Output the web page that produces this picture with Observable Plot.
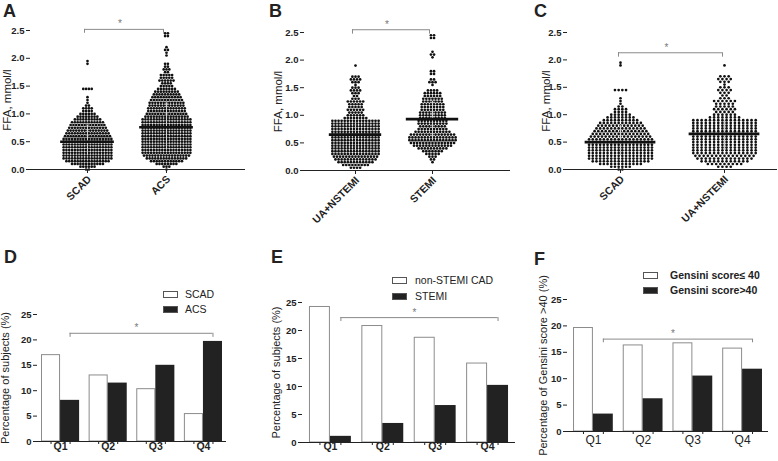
<!DOCTYPE html>
<html><head><meta charset="utf-8">
<script src="https://cdn.jsdelivr.net/npm/d3@7"></script>
<script src="https://cdn.jsdelivr.net/npm/@observablehq/plot@0.6"></script>
<style>
html,body{margin:0;padding:0;background:#fff;}
#fig{position:relative;width:778px;height:461px;overflow:hidden;font-family:"Liberation Sans",Arial,sans-serif;color:#222;}
.panel{position:absolute;}
.letter{position:absolute;font-weight:bold;font-size:18px;line-height:1;}
.legrow{position:absolute;height:7px;display:flex;align-items:center;white-space:nowrap;font-size:10.5px;line-height:1;}
.sw{display:inline-block;width:15px;height:7px;box-sizing:border-box;border:1px solid #555;}
</style></head><body><div id="fig"></div>
<script>
// ---------- DATA ----------
// FFA levels (mmol/l) used as rows of the scatter-dot plots
const ffaLevels = [0,0.05,0.1,0.15,0.2,0.25,0.3,0.35,0.4,0.45,0.5,0.55,0.6,0.65,0.7,0.75,0.8,0.85,0.9,0.95,
  1,1.05,1.1,1.15,1.2,1.25,1.3,1.35,1.4,1.45,1.5,1.55,1.6,1.65,1.7,1.75,1.8,1.85,1.9,1.95,
  2,2.05,2.1,2.15,2.2,2.25,2.3,2.35,2.4,2.45];
// number of subjects at each level
const scadCounts = [2,6,12,16,18,18,18,18,18,18,18,18,17,16,15,14,13,12,10,8,6,4,4,2,1,1,1,0,0,4,0,0,0,0,0,0,0,0,1,1,0,0,0,0,0,0,0,0,0,0];
const acsCounts = [1,3,8,12,15,17,18,18,18,18,18,18,18,18,18,18,18,18,18,16,15,14,14,13,13,12,11,10,9,7,5,4,6,5,5,2,3,2,2,0,0,1,1,2,1,0,0,0,2,2];
const uaNstemiCounts = [0,4,9,12,14,15,16,16,16,16,16,16,16,16,16,16,16,16,16,8,6,5,6,5,5,6,3,2,3,4,3,1,3,4,3,0,0,0,1,0,0,0,0,0,0,0,0,0,0,0];
const stemiCounts = [0,0,0,1,2,3,5,7,10,13,15,16,16,15,12,10,9,10,10,9,9,9,8,8,8,7,7,6,6,4,0,1,3,2,0,2,2,0,0,0,0,1,2,1,0,0,0,0,2,2];
const groupNames = ["SCAD","ACS","UA+NSTEMI","STEMI"];
const groupMedians = [0.50, 0.76, 0.65, 0.93];
const groupSpreadLow = [0.25, 0.35, 0.35, 0.55];
const groupSpreadHigh = [0.80, 1.20, 0.90, 1.25];
const ffaTicks = [0,0.5,1,1.5,2,2.5];

const quartiles = ["Q1","Q2","Q3","Q4"];
const dScad = [17.0, 13.0, 10.3, 5.4];
const dAcs = [8.1, 11.5, 15.0, 19.7];
const eNonStemi = [24.2, 20.8, 18.7, 14.1];
const eStemi = [1.1, 3.4, 6.6, 10.2];
const fLow = [19.6, 16.3, 16.7, 15.7];
const fHigh = [3.3, 6.2, 10.5, 11.8];
const pctTicks = [0,5,10,15,20,25];

// ---------- HELPERS ----------
const fig = document.getElementById("fig");
const FONT = '"Liberation Sans", Arial, sans-serif';
function place(node, left, top) {
  const d = document.createElement("div");
  d.className = "panel"; d.style.left = left + "px"; d.style.top = top + "px";
  d.appendChild(node); fig.appendChild(d);
}
function letter(t, left, top) {
  const d = document.createElement("div");
  d.className = "letter"; d.textContent = t;
  d.style.left = left + "px"; d.style.top = top + "px"; fig.appendChild(d);
}
function legend(left, top, gap, textGap, items, bold) {
  items.forEach((it, i) => {
    const row = document.createElement("div");
    row.className = "legrow";
    row.style.left = left + "px"; row.style.top = (top + i * gap) + "px";
    if (bold) row.style.fontWeight = "bold";
    const sw = document.createElement("span");
    sw.className = "sw"; sw.style.background = it.fill;
    sw.style.marginRight = textGap + "px";
    const tx = document.createElement("span"); tx.textContent = it.label;
    row.appendChild(sw); row.appendChild(tx); fig.appendChild(row);
  });
}
const baseStyle = {background: "transparent", overflow: "visible", fontFamily: FONT, color: "#222"};

function yTitle(label, ml, xLeft, size) {
  return Plot.text([label], {text: d => d, frameAnchor: "left", rotate: -90, lineAnchor: "top", textAnchor: "middle",
    dx: xLeft - ml, fontSize: size, fill: "#222"});
}

function dotPanel(o) {
  const dots = [];
  o.groups.forEach((g, gi) => {
    const step = 0.64 / d3.max(g.counts);
    g.counts.forEach((n, li) => {
      for (let i = 0; i < n; i++) dots.push({x: gi + 1 + (i - (n - 1) / 2) * step, y: ffaLevels[li]});
    });
  });
  const sig = o.sig;
  return Plot.plot({
    width: o.width, height: 230,
    marginLeft: o.ml, marginRight: o.mr, marginTop: o.mt, marginBottom: o.mb,
    x: {domain: o.xDomain},
    y: {domain: [0, 2.5]},
    style: baseStyle,
    marks: [
      Plot.dot(dots, {x: "x", y: "y", r: 1.35, fill: "#111", stroke: null}),
      Plot.ruleX(o.groups, {x: (d, i) => i + 1, y1: d => d.low, y2: d => d.high, stroke: "#d8d8d8", strokeWidth: 1}),
      Plot.ruleY(o.groups, {y: d => d.median, x1: (d, i) => i + 1 - 0.34, x2: (d, i) => i + 1 + 0.34, stroke: "#111", strokeWidth: 2.6}),
      Plot.ruleY([0], {stroke: "#222"}),
      Plot.axisY({ticks: ffaTicks, tickFormat: d3.format(".1f"), tickSize: 4, tickPadding: 2, fontWeight: "bold", fontSize: 9.5, label: null, line: true}),
      yTitle("FFA, mmol/l", o.ml, o.titleX, 11.5),
      Plot.axisX({ticks: [1, 2], tickFormat: () => "", tickSize: 4, label: null}),
      Plot.text(o.groups, {x: (d, i) => i + 1, text: d => d.name, frameAnchor: "bottom", rotate: -45,
        textAnchor: "end", lineAnchor: "middle", dx: 2, dy: 8, fontWeight: "bold", fontSize: 10.5, fill: "#222"}),
      Plot.ruleY([sig], {y: "y", x1: () => 1, x2: () => 2, dx: sig.dx, stroke: "#8a8a8a"}),
      Plot.ruleX([1, 2], {x: d => d, y1: sig.y, y2: sig.y - sig.drop, dx: sig.dx, stroke: "#8a8a8a"}),
      Plot.text([sig], {x: () => 1.5, y: "y", text: () => "*", dx: sig.dx - 4, dy: -2, fill: "#777", fontSize: 10, lineAnchor: "bottom"})
    ]
  });
}

function barPanel(o) {
  const pi = 0.2;
  const step = (o.width - o.ml - o.mr) / (4 - pi + 2 * o.po);
  const bw = step * (1 - pi);
  const rows = quartiles.map((q, i) => ({q, a: o.a[i], b: o.b[i]}));
  const sig = o.sig;
  return Plot.plot({
    width: o.width, height: 231,
    marginLeft: o.ml, marginRight: o.mr, marginTop: o.mt, marginBottom: o.mb,
    x: {domain: quartiles, paddingInner: pi, paddingOuter: o.po, round: false},
    y: {domain: [0, 25]},
    style: baseStyle,
    marks: [
      Plot.barY(rows, {x: "q", y: "a", fill: "white", stroke: "#8c8c8c", strokeWidth: 1, insetLeft: 0.5, insetRight: bw / 2 + 0.5}),
      Plot.barY(rows, {x: "q", y: "b", fill: "#222", insetLeft: bw / 2}),
      Plot.ruleY([0], {stroke: "#222"}),
      Plot.ruleX(quartiles, {x: d => d, y1: 0, y2: 0, insetTop: 3, dx: -bw / 4, stroke: "#222"}),
      Plot.ruleX(quartiles, {x: d => d, y1: 0, y2: 0, insetTop: 3, dx: bw / 4, stroke: "#222"}),
      Plot.axisY({ticks: pctTicks, tickSize: 4, tickPadding: 2, fontWeight: "bold", fontSize: 9.5, label: null, line: true}),
      yTitle(o.yLabel, o.ml, o.titleX, 11),
      Plot.axisX({tickSize: 0, tickPadding: o.qPad, fontWeight: o.qWeight, fontSize: o.qSize, label: null}),
      Plot.ruleY([sig], {y: "y", x1: () => "Q1", x2: () => "Q4", insetLeft: 3 * bw / 4, insetRight: bw / 4, stroke: "#8a8a8a"}),
      Plot.ruleX(["Q1", "Q4"], {x: d => d, y1: sig.y, y2: sig.y - sig.drop, dx: bw / 4, stroke: "#8a8a8a"}),
      Plot.text([sig], {x: () => "Q2", y: "y", text: () => "*", dx: step / 2 + bw / 4 - 5, dy: -2, fill: "#777", fontSize: 10, lineAnchor: "bottom"})
    ]
  });
}

const G = i => ({name: groupNames[i], median: groupMedians[i], low: groupSpreadLow[i], high: groupSpreadHigh[i]});

// ---------- PANELS ----------
place(dotPanel({width: 255, ml: 30, mr: 10, mt: 30, mb: 61, xDomain: [0.2785, 3.0], titleX: 2,
  groups: [{...G(0), counts: scadCounts}, {...G(1), counts: acsCounts}],
  sig: {y: 2.52, drop: 0.07, dx: -3}}), 0, 0);
place(dotPanel({width: 255, ml: 49, mr: 0, mt: 32, mb: 60, xDomain: [0.3377, 3.013], titleX: 18,
  groups: [{...G(2), counts: uaNstemiCounts}, {...G(3), counts: stemiCounts}],
  sig: {y: 2.55, drop: 0.08, dx: -3}}), 255, 0);
place(dotPanel({width: 268, ml: 57, mr: 1, mt: 32, mb: 61, xDomain: [0.4904, 2.5096], titleX: 31,
  groups: [{...G(0), counts: scadCounts}, {...G(2), counts: uaNstemiCounts}],
  sig: {y: 2.13, drop: 0.08, dx: -2}}), 510, 0);

place(barPanel({width: 255, ml: 37, mr: 29, mt: 84, mb: 20, po: 0.084, a: dScad, b: dAcs,
  yLabel: "Percentage of subjects (%)", titleX: 1, qPad: 1, qWeight: "bold", qSize: 10.5,
  sig: {y: 21.3, drop: 0.8}}), 0, 230);
place(barPanel({width: 260, ml: 47, mr: 0, mt: 72, mb: 19, po: 0.133, a: eNonStemi, b: eStemi,
  yLabel: "Percentage of subjects (%)", titleX: 17, qPad: 0, qWeight: "bold", qSize: 10.5,
  sig: {y: 22.3, drop: 0.7}}), 255, 230);
place(barPanel({width: 268, ml: 57, mr: 10, mt: 69, mb: 30, po: 0.121, a: fLow, b: fHigh,
  yLabel: "Percentage of Gensini score >40 (%)", titleX: 29, qPad: 4, qWeight: "normal", qSize: 12,
  sig: {y: 17.5, drop: 0.7}}), 510, 230);

letter("A", 3, 2); letter("B", 269, 2); letter("C", 534, 2);
letter("D", 4, 248); letter("E", 271, 248); letter("F", 534, 250);

legend(163, 291, 15, 7, [{label: "SCAD", fill: "white"}, {label: "ACS", fill: "#222"}], false);
legend(392, 277, 16, 8, [{label: "non-STEMI CAD", fill: "white"}, {label: "STEMI", fill: "#222"}], false);
legend(643, 272, 15, 12, [{label: "Gensini score\u2264 40", fill: "white"}, {label: "Gensini score>40", fill: "#222"}], true);
</script>
</body></html>
